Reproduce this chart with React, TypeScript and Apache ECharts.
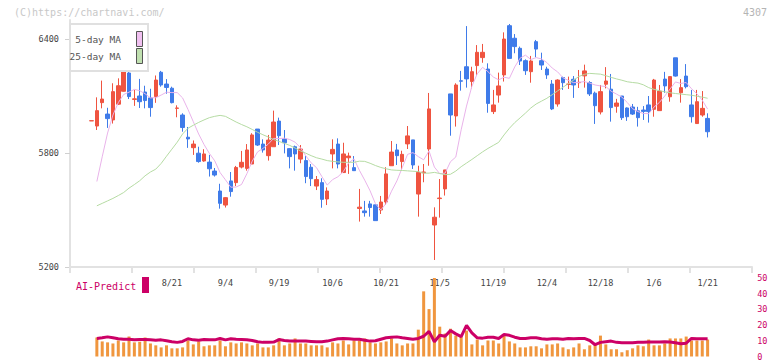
import React, { useEffect, useRef } from "react";
import * as echarts from "echarts";

const FONT = "DejaVu Sans Mono";

const padBefore = ["7/25", "7/28", "7/29"];
const padAfter = ["1/22", "1/23", "1/26", "1/27", "1/28", "1/29", "1/30", "2/2"];
const dates = [
  "7/30", "7/31", "8/1", "8/4", "8/5", "8/6", "8/7", "8/8", "8/12", "8/13",
  "8/14", "8/15", "8/18", "8/19", "8/20", "8/21", "8/22", "8/25", "8/26", "8/27",
  "8/28", "8/29", "9/1", "9/2", "9/3", "9/4", "9/5", "9/8", "9/9", "9/10",
  "9/11", "9/12", "9/16", "9/17", "9/18", "9/19", "9/22", "9/24", "9/25", "9/26",
  "9/29", "9/30", "10/1", "10/2", "10/3", "10/6", "10/7", "10/8", "10/9", "10/10",
  "10/14", "10/15", "10/16", "10/17", "10/20", "10/21", "10/22", "10/23", "10/24", "10/27",
  "10/28", "10/29", "10/30", "10/31", "11/4", "11/5", "11/6", "11/7", "11/10", "11/11",
  "11/12", "11/13", "11/14", "11/17", "11/18", "11/19", "11/20", "11/21", "11/25", "11/26",
  "11/27", "11/28", "12/1", "12/2", "12/3", "12/4", "12/5", "12/8", "12/9", "12/10",
  "12/11", "12/12", "12/15", "12/16", "12/17", "12/18", "12/19", "12/22", "12/23", "12/24",
  "12/25", "12/26", "12/29", "12/30", "1/5", "1/6", "1/7", "1/8", "1/9", "1/13",
  "1/14", "1/15", "1/16", "1/19", "1/20", "1/21",
];
const tickLabels = ["8/21", "9/4", "9/19", "10/6", "10/21", "11/5", "11/19", "12/4", "12/18", "1/6", "1/21"];
const priceTicks = [5200, 5800, 6400];

const opens = [
  5969, 5942, 6065, 6005, 5974, 6057, 6125, 6221, 6082, 6100,
  6121, 6090, 6097, 6225, 6163, 6141, 6035, 6000, 5883, 5828,
  5799, 5758, 5752, 5705, 5600, 5526, 5653, 5644, 5726, 5719,
  5742, 5926, 5847, 5786, 5833, 5968, 5874, 5823, 5833, 5768,
  5760, 5725, 5626, 5644, 5558, 5795, 5847, 5697, 5775, 5723,
  5508, 5495, 5532, 5527, 5500, 5542, 5733, 5816, 5755, 5848,
  5869, 5584, 5696, 5821, 5421, 5560, 5611, 6111, 5995, 6180,
  6254, 6176, 6260, 6302, 6242, 6018, 6105, 6211, 6470, 6404,
  6351, 6286, 6228, 6386, 6286, 6242, 6163, 6058, 6197, 6161,
  6188, 6170, 6206, 6171, 6115, 6016, 6162, 6136, 6046, 6100,
  6037, 6042, 6022, 6026, 6053, 6030, 6023, 6189, 6096, 6301,
  6117, 6205, 6053, 5955, 6000, 5982,
];
const closes = [
  5970, 6023, 6084, 5981, 6123, 6154, 6232, 6097, 6085, 6070,
  6076, 6039, 6184, 6158, 6145, 6065, 6037, 5934, 5874, 5847,
  5755, 5795, 5717, 5684, 5535, 5565, 5597, 5724, 5751, 5816,
  5895, 5842, 5816, 5868, 5963, 5891, 5854, 5781, 5795, 5821,
  5676, 5665, 5660, 5556, 5600, 5819, 5742, 5795, 5784, 5707,
  5515, 5486, 5513, 5444, 5542, 5690, 5805, 5786, 5793, 5890,
  5737, 5698, 5700, 6032, 5462, 5563, 5711, 6000, 6158, 6178,
  6190, 6228, 6330, 6330, 6061, 6053, 6153, 6400, 6298, 6360,
  6284, 6233, 6284, 6347, 6263, 6211, 6032, 6184, 6170, 6163,
  6158, 6172, 6232, 6111, 6049, 6123, 6179, 6039, 6063, 5986,
  5991, 6005, 5986, 6019, 6018, 6184, 6126, 6153, 6202, 6205,
  6144, 6149, 5991, 6070, 6035, 5912,
];
const lows = [
  5969, 5921, 6035, 5932, 5955, 6053, 6123, 6084, 6048, 6037,
  6035, 5991, 6064, 6149, 6112, 6061, 5988, 5912, 5827, 5790,
  5749, 5754, 5676, 5676, 5507, 5513, 5570, 5626, 5719, 5707,
  5742, 5837, 5802, 5760, 5833, 5842, 5798, 5719, 5707, 5746,
  5641, 5626, 5605, 5512, 5526, 5719, 5719, 5697, 5690, 5707,
  5439, 5465, 5465, 5444, 5479, 5527, 5733, 5737, 5707, 5821,
  5716, 5465, 5646, 5733, 5237, 5460, 5576, 5891, 5939, 6128,
  6144, 6140, 6207, 6275, 6012, 6005, 6065, 6176, 6298, 6325,
  6263, 6211, 6170, 6304, 6237, 6190, 6026, 6044, 6132, 6137,
  6090, 6142, 6144, 6100, 5953, 6003, 6140, 5965, 6012, 5974,
  5969, 6000, 5939, 5974, 5960, 5991, 6023, 6117, 6070, 6202,
  6065, 6140, 5960, 5953, 5991, 5882,
];
const highs = [
  5970, 6093, 6181, 6038, 6167, 6193, 6254, 6263, 6132, 6190,
  6154, 6138, 6208, 6232, 6189, 6149, 6051, 6009, 5937, 5866,
  5833, 5820, 5790, 5721, 5638, 5568, 5700, 5732, 5811, 5847,
  5904, 5926, 5872, 5895, 6023, 5986, 5921, 5825, 5839, 5842,
  5784, 5742, 5679, 5667, 5619, 5872, 5877, 5854, 5802, 5784,
  5611, 5548, 5548, 5530, 5574, 5725, 5863, 5848, 5812, 5942,
  5869, 5733, 5742, 6116, 5514, 5663, 5711, 6111, 6167, 6232,
  6468, 6254, 6368, 6374, 6272, 6132, 6223, 6435, 6479, 6426,
  6360, 6293, 6311, 6395, 6328, 6254, 6184, 6188, 6202, 6202,
  6205, 6237, 6265, 6178, 6123, 6158, 6252, 6216, 6085, 6100,
  6040, 6058, 6043, 6047, 6100, 6190, 6158, 6227, 6202, 6301,
  6189, 6268, 6132, 6132, 6126, 6009,
];
const ma5 = [
  null, 5650, 5780, 5905, 6000, 6065, 6108, 6120, 6135, 6128,
  6112, 6090, 6091, 6105, 6120, 6118, 6118, 6090, 6030, 5965,
  5900, 5845, 5798, 5759, 5697, 5659, 5620, 5621, 5634, 5691,
  5757, 5806, 5824, 5847, 5877, 5876, 5878, 5871, 5857, 5828,
  5785, 5748, 5723, 5676, 5631, 5660, 5675, 5702, 5748, 5769,
  5709, 5657, 5601, 5533, 5500, 5535, 5599, 5653, 5723, 5793,
  5802, 5781, 5764, 5811, 5726, 5691, 5694, 5754, 5779, 5922,
  6047, 6151, 6217, 6251, 6228, 6200, 6185, 6199, 6193, 6253,
  6299, 6315, 6292, 6302, 6295, 6276, 6247, 6227, 6196, 6182,
  6170, 6172, 6176, 6168, 6158, 6153, 6150, 6125, 6110, 6094,
  6066, 6033, 6018, 6008, 6007, 6042, 6066, 6100, 6137, 6174,
  6166, 6171, 6138, 6112, 6078, 6031,
];
const ma25 = [
  null, 5522, 5535, 5548, 5561, 5576, 5592, 5615, 5634, 5654,
  5680, 5700, 5715, 5745, 5783, 5820, 5857, 5900, 5930, 5946,
  5961, 5974, 5986, 5993, 5998, 5993, 5978, 5963, 5950, 5938,
  5924, 5909, 5896, 5884, 5871, 5861, 5851, 5840, 5826, 5811,
  5799, 5786, 5775, 5768, 5760, 5756, 5753, 5751, 5751, 5751,
  5757, 5756, 5746, 5734, 5724, 5717, 5711, 5709, 5708, 5706,
  5704, 5702, 5694, 5694, 5698, 5692, 5686, 5688, 5705, 5728,
  5747, 5766, 5786, 5806, 5824, 5840, 5856, 5895, 5930, 5960,
  5985, 6010, 6037, 6058, 6073, 6088, 6107, 6127, 6146, 6165,
  6184, 6203, 6214, 6219, 6217, 6215, 6207, 6198, 6190, 6183,
  6175, 6171, 6168, 6159, 6144, 6135, 6128, 6122, 6117, 6113,
  6110, 6107, 6104, 6099, 6094, 6088,
];
const volume = [
  null, 12.1, 9.6, 9.0, 8.3, 10.2, 9.0, 12.7, 9.0, 9.4,
  12.1, 8.3, 7.1, 5.8, 7.1, 5.2, 5.2, 5.8, 10.2, 7.7,
  9.6, 6.5, 7.1, 7.1, 10.2, 6.5, 9.0, 8.3, 9.0, 8.3,
  7.1, 8.3, 5.8, 5.8, 7.1, 11.5, 7.1, 8.3, 11.5, 8.3,
  8.3, 7.1, 7.1, 7.1, 5.8, 9.0, 8.3, 10.2, 7.7, 10.2,
  10.2, 11.5, 9.0, 8.3, 9.0, 9.6, 11.5, 8.3, 7.1, 8.3,
  8.3, 17.1, 41.5, 30.2, 52, 19.0, 14.6, 17.7, 13.3, 12.7,
  16.5, 7.7, 10.8, 7.1, 10.2, 10.2, 8.3, 14.0, 9.6, 8.3,
  5.8, 5.8, 6.5, 6.5, 5.2, 7.7, 7.7, 8.3, 5.8, 4.6,
  5.8, 8.3, 4.6, 7.1, 7.7, 13.3, 7.7, 4.6, 4.6, 2.7,
  4.0, 5.2, 7.1, 6.5, 10.8, 7.1, 7.1, 8.3, 11.5, 11.5,
  11.5, 12.7, 10.2, 10.2, 10.2, 10.8,
];
const aiPredict = [
  null, 11.5, 11.9, 12.5, 11.9, 11.3, 11.0, 11.0, 10.6, 10.8,
  10.8, 10.6, 10.4, 10.6, 10.0, 9.4, 9.0, 9.6, 11.3, 10.6,
  10.4, 10.8, 10.6, 10.6, 11.5, 10.6, 11.3, 11.0, 10.8, 10.6,
  10.2, 9.4, 9.0, 9.0, 9.2, 10.8, 10.2, 9.8, 9.8, 9.8,
  9.8, 9.6, 9.4, 9.4, 9.8, 10.6, 11.3, 11.5, 11.3, 11.0,
  11.0, 10.4, 9.8, 10.0, 11.0, 11.9, 12.3, 12.5, 11.9, 11.5,
  11.0, 11.5, 12.9, 16.0, 9.4, 13.5, 12.9, 16.5, 14.4, 12.7,
  19.8, 15.0, 11.9, 11.7, 12.3, 12.3, 11.5, 14.0, 13.5, 12.3,
  11.5, 11.5, 11.9, 11.9, 11.3, 11.0, 11.3, 11.3, 11.0, 11.5,
  11.3, 11.5, 11.5, 10.2, 7.5, 9.0, 9.4, 9.8, 9.0, 8.75,
  8.75, 8.75, 9.0, 9.0, 9.2, 9.2, 9.2, 9.4, 9.2, 8.75,
  8.1, 8.5, 11.5, 11.3, 11.3, 11.3,
];

const UP = "#ef5440";
const DOWN = "#3f7be9";
const PINK = "#e9b3ea";
const GREEN = "#b5dba3";
const CRIMSON = "#cc0066";
const ORANGE = "#f0963e";
const AXIS = "#e2e2e2";

const frameLeft = 70;
const frameWidth = 682;
const plotLeft = 72.75;
const plotWidth = 680.4;

export default function App() {
  const ref = useRef<HTMLDivElement>(null);

  useEffect(() => {
    if (!ref.current) return;
    const chart = echarts.init(ref.current, undefined, { renderer: "svg" });

    const categories = [...padBefore, ...dates, ...padAfter];
    const pre = padBefore.map(() => "-");
    const post = padAfter.map(() => "-");
    const fill = (arr: (number | null)[]) => [
      ...pre,
      ...arr.map((v) => (v == null ? "-" : v)),
      ...post,
    ];
    const candleData = [
      ...padBefore.map(() => ["-", "-", "-", "-"]),
      ...dates.map((_, i) => [opens[i], closes[i], lows[i], highs[i]]),
      ...padAfter.map(() => ["-", "-", "-", "-"]),
    ];

    const labelStyle = { fontFamily: FONT, fontSize: 8.5, color: "#444" };

    chart.setOption({
      animation: false,
      backgroundColor: "#ffffff",
      grid: [
        { left: frameLeft, top: 20, width: frameWidth, height: 247 },
        { left: plotLeft, top: 20, width: plotWidth, height: 247 },
        { left: plotLeft, top: 278, width: plotWidth, height: 80 },
      ],
      xAxis: [
        {
          type: "value",
          gridIndex: 0,
          min: 0,
          max: 11,
          interval: 1,
          axisLine: { show: true, lineStyle: { color: AXIS, width: 2 } },
          axisTick: { show: true, length: 6, lineStyle: { color: AXIS, width: 2 } },
          axisLabel: { show: false },
          splitLine: { show: false },
        },
        {
          type: "category",
          gridIndex: 1,
          data: categories,
          boundaryGap: true,
          axisLine: { show: false },
          axisTick: { show: false },
          splitLine: { show: false },
          axisLabel: {
            ...labelStyle,
            margin: 11,
            interval: (_i: number, v: string) => tickLabels.includes(v),
          },
        },
        {
          type: "category",
          gridIndex: 2,
          data: categories,
          boundaryGap: true,
          show: false,
        },
      ],
      yAxis: [
        {
          type: "value",
          gridIndex: 0,
          min: 5200,
          max: 6500,
          interval: 600,
          axisLine: { show: true, lineStyle: { color: AXIS, width: 2 } },
          axisTick: {
            show: true,
            length: 5,
            lineStyle: { color: "#d0d0d0" },
            customValues: priceTicks,
          },
          axisLabel: {
            ...labelStyle,
            margin: 11,
            customValues: priceTicks,
            formatter: (v: number) => (priceTicks.includes(v) ? String(v) : ""),
          },
          splitLine: { show: false },
        },
        { type: "value", gridIndex: 1, min: 5200, max: 6500, show: false },
        {
          type: "value",
          gridIndex: 2,
          min: 0,
          max: 50,
          interval: 10,
          position: "right",
          axisLine: { show: false },
          axisTick: { show: false },
          splitLine: { show: false },
          axisLabel: { fontFamily: FONT, fontSize: 8.5, color: CRIMSON, margin: 4 },
        },
      ],
      series: [
        {
          type: "line",
          name: "frame",
          xAxisIndex: 0,
          yAxisIndex: 0,
          data: [],
          silent: true,
        },
        {
          type: "candlestick",
          name: "4307",
          xAxisIndex: 1,
          yAxisIndex: 1,
          data: candleData,
          barWidth: 4,
          itemStyle: {
            color: UP,
            color0: DOWN,
            borderColor: UP,
            borderColor0: DOWN,
            borderWidth: 1,
          },
        },
        {
          type: "line",
          name: "5-day MA",
          xAxisIndex: 1,
          yAxisIndex: 1,
          data: fill(ma5),
          symbol: "none",
          lineStyle: { color: PINK, width: 1 },
          itemStyle: { color: PINK },
        },
        {
          type: "line",
          name: "25-day MA",
          xAxisIndex: 1,
          yAxisIndex: 1,
          data: fill(ma25),
          symbol: "none",
          lineStyle: { color: GREEN, width: 1 },
          itemStyle: { color: GREEN },
        },
        {
          type: "bar",
          name: "Volume",
          xAxisIndex: 2,
          yAxisIndex: 2,
          data: fill(volume),
          barWidth: 3,
          clip: true,
          itemStyle: { color: ORANGE },
        },
        {
          type: "line",
          name: "AI-Predict",
          xAxisIndex: 2,
          yAxisIndex: 2,
          data: fill(aiPredict),
          symbol: "none",
          lineStyle: { color: CRIMSON, width: 3 },
          itemStyle: { color: CRIMSON },
        },
      ],
      graphic: [
        {
          type: "text",
          left: 14,
          top: 7,
          style: {
            text: "(C)https://chartnavi.com/",
            fontFamily: FONT,
            fontSize: 10,
            fill: "#c8c8c8",
          },
        },
        {
          type: "text",
          right: 5,
          top: 7,
          style: { text: "4307", fontFamily: FONT, fontSize: 10, fill: "#b4b4b4" },
        },
        {
          type: "rect",
          shape: { x: 70, y: 24, width: 78, height: 47 },
          style: { fill: "#ffffff", stroke: "#e0e0e0", lineWidth: 2 },
          z: 10,
        },
        {
          type: "text",
          x: 121,
          y: 39.5,
          z: 11,
          style: {
            text: "5-day MA",
            fontFamily: FONT,
            fontSize: 9.5,
            fill: "#555",
            align: "right",
            verticalAlign: "middle",
          },
        },
        {
          type: "text",
          x: 121,
          y: 56,
          z: 11,
          style: {
            text: "25-day MA",
            fontFamily: FONT,
            fontSize: 9.5,
            fill: "#555",
            align: "right",
            verticalAlign: "middle",
          },
        },
        {
          type: "rect",
          z: 11,
          shape: { x: 136.5, y: 31.5, width: 6, height: 15 },
          style: { fill: "#f0c0f0", stroke: "#555", lineWidth: 1 },
        },
        {
          type: "rect",
          z: 11,
          shape: { x: 136.5, y: 48.5, width: 6, height: 15 },
          style: { fill: "#c0e0b0", stroke: "#555", lineWidth: 1 },
        },
        {
          type: "text",
          x: 76,
          y: 286,
          style: {
            text: "AI-Predict",
            fontFamily: FONT,
            fontSize: 10,
            fill: CRIMSON,
            verticalAlign: "middle",
          },
        },
        {
          type: "rect",
          shape: { x: 142, y: 277, width: 7, height: 16 },
          style: { fill: CRIMSON },
        },
      ],
    });

    return () => chart.dispose();
  }, []);

  return (
    <div
      ref={ref}
      style={{ position: "fixed", left: 0, top: 0, width: 772, height: 361, background: "#fff" }}
    />
  );
}
